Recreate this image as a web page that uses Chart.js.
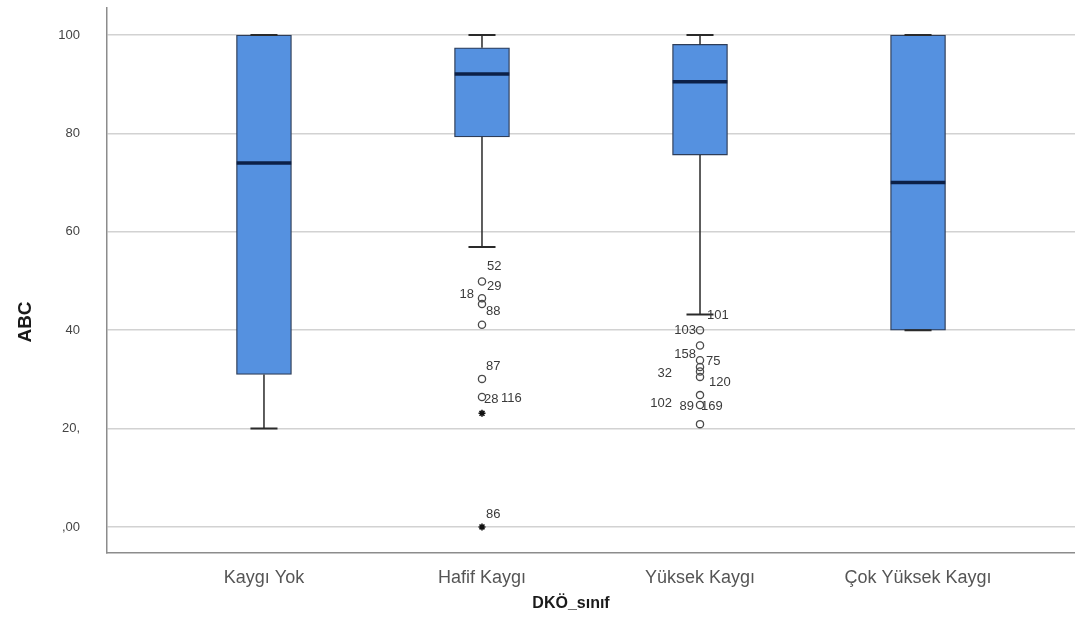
<!DOCTYPE html>
<html>
<head>
<meta charset="utf-8">
<script src="https://cdn.jsdelivr.net/npm/chart.js@4/dist/chart.umd.min.js"></script>
<style>
  html, body { margin: 0; padding: 0; background: #ffffff; }
  #wrap { width: 1075px; height: 629px; position: relative; }
</style>
</head>
<body>
<div id="wrap"><canvas id="c"></canvas></div>
<script>
// ---- data ----
const categories = ['Kaygı Yok', 'Hafif Kaygı', 'Yüksek Kaygı', 'Çok Yüksek Kaygı'];
const whiskerLow  = [20.0, 56.9, 43.2, 40.0];
const q1          = [31.0, 79.3, 75.6, 40.0];
const median      = [74.0, 92.1, 90.5, 70.0];
const q3          = [100.0, 97.4, 98.1, 100.0];
const whiskerHigh = [100.0, 100.0, 100.0, 100.0];

const outlierCat = [1, 1, 1, 1, 1, 1, 2, 2, 2, 2, 2, 2, 2, 2, 2];
const outlierVal = [49.9, 46.5, 45.3, 41.1, 30.1, 26.4, 40.0, 36.9, 33.9, 32.5, 31.6, 30.5, 26.8, 24.8, 20.9];
const extremeCat = [1, 1];
const extremeVal = [23.1, 0.0];

const labelText = ['52', '29', '18', '88', '87', '28', '116', '86', '101', '103', '158', '75', '32', '120', '102', '89', '169'];
const labelCat  = [1, 1, 1, 1, 1, 1, 1, 1, 2, 2, 2, 2, 2, 2, 2, 2, 2];
const labelVal  = [52.9, 48.8, 47.2, 43.9, 32.6, 26.0, 26.2, 2.6, 42.9, 40.0, 35.0, 33.7, 31.3, 29.3, 25.2, 24.4, 24.4];
const labelDx   = [5, 5, -8, 4, 4, 2, 19, 4, 7, -4, -4, 6, -28, 9, -28, -6, 1];

const yTickValues = [0, 20, 40, 60, 80, 100];
const yTickLabels = [',00', '20,', '40', '60', '80', '100'];

// ---- derived series ----
const boxData = categories.map((c, i) => ({ x: i, y: [q1[i], q3[i]] }));
const whiskerData = [];
const capData = [];
const medianData = [];
const CAP = 0.062, HALF = 0.125;
categories.forEach((c, i) => {
  whiskerData.push({ x: i, y: q3[i] }, { x: i, y: whiskerHigh[i] }, { x: i, y: null });
  whiskerData.push({ x: i, y: q1[i] }, { x: i, y: whiskerLow[i] }, { x: i, y: null });
  capData.push({ x: i - CAP, y: whiskerHigh[i] }, { x: i + CAP, y: whiskerHigh[i] }, { x: i, y: null });
  capData.push({ x: i - CAP, y: whiskerLow[i] }, { x: i + CAP, y: whiskerLow[i] }, { x: i, y: null });
  medianData.push({ x: i - HALF, y: median[i] }, { x: i + HALF, y: median[i] }, { x: i, y: null });
});
const outlierData = outlierVal.map((v, k) => ({ x: outlierCat[k], y: v }));
const extremeData = extremeVal.map((v, k) => ({ x: extremeCat[k], y: v }));

// ---- plugins ----
const bgPlugin = {
  id: 'bg',
  beforeDraw(chart) {
    const ctx = chart.ctx;
    ctx.save();
    ctx.fillStyle = '#ffffff';
    ctx.fillRect(0, 0, chart.width, chart.height);
    ctx.restore();
  }
};

const labelPlugin = {
  id: 'caseLabels',
  afterDatasetsDraw(chart) {
    const ctx = chart.ctx;
    const xs = chart.scales.x, ys = chart.scales.y;
    ctx.save();
    ctx.font = '13px "Liberation Sans", Arial, sans-serif';
    ctx.fillStyle = '#3a3a3a';
    ctx.textBaseline = 'middle';
    labelText.forEach((t, k) => {
      const px = xs.getPixelForValue(labelCat[k]) + labelDx[k];
      const py = ys.getPixelForValue(labelVal[k]);
      ctx.textAlign = labelDx[k] < 0 ? 'right' : 'left';
      ctx.fillText(t, px, py);
    });
    ctx.restore();
  }
};

const titlePlugin = {
  id: 'axisTitles',
  afterDraw(chart) {
    const ctx = chart.ctx;
    ctx.save();
    ctx.fillStyle = '#1a1a1a';
    ctx.textAlign = 'center';
    ctx.textBaseline = 'middle';
    ctx.font = 'bold 16px "Liberation Sans", Arial, sans-serif';
    ctx.fillText('DKÖ_sınıf', 571, 604);
    ctx.translate(26, 322);
    ctx.rotate(-Math.PI / 2);
    ctx.font = 'bold 19px "Liberation Sans", Arial, sans-serif';
    ctx.fillText('ABC', 0, 0);
    ctx.restore();
  }
};

new Chart(document.getElementById('c'), {
  type: 'bar',
  data: {
    datasets: [
      {
        type: 'line', label: 'median', data: medianData, order: 0,
        borderColor: '#0c2047', borderWidth: 3.5, pointRadius: 0, spanGaps: false, fill: false
      },
      {
        type: 'line', label: 'caps', data: capData, order: 1,
        borderColor: '#2a2a2a', borderWidth: 2, pointRadius: 0, spanGaps: false, fill: false
      },
      {
        type: 'line', label: 'whiskers', data: whiskerData, order: 2,
        borderColor: '#2a2a2a', borderWidth: 1.5, pointRadius: 0, spanGaps: false, fill: false
      },
      {
        type: 'scatter', label: 'outliers', data: outlierData, order: 0,
        pointStyle: 'circle', pointRadius: 3.6, borderWidth: 1.3,
        borderColor: '#4a4a4a', backgroundColor: 'rgba(255,255,255,0)'
      },
      {
        type: 'scatter', label: 'extremes', data: extremeData, order: 0,
        pointStyle: 'star', pointRadius: 3.5, borderWidth: 1.6,
        borderColor: '#111111', backgroundColor: '#111111'
      },
      {
        type: 'bar', label: 'box', data: boxData, order: 10,
        backgroundColor: '#5591e0', borderColor: '#2e3d58', borderWidth: 1.3,
        borderSkipped: false, barThickness: 55
      }
    ]
  },
  options: {
    responsive: true,
    maintainAspectRatio: false,
    animation: false,
    layout: { autoPadding: false, padding: { top: 8, right: 0, left: 0, bottom: 0 } },
    plugins: { legend: { display: false }, tooltip: { enabled: false } },
    scales: {
      x: {
        type: 'linear',
        offset: false,
        min: -0.72, max: 3.72,
        afterBuildTicks(scale) { scale.ticks = categories.map((c, i) => ({ value: i })); },
        afterFit(scale) { scale.height = 76; },
        grid: { display: true, drawOnChartArea: false, drawTicks: true, tickLength: 14, tickColor: 'rgba(0,0,0,0)' },
        border: { display: true, color: '#8c8c8c', width: 1.5 },
        ticks: {
          padding: 0,
          color: '#555555',
          font: { family: '"Liberation Sans", Arial, sans-serif', size: 18 },
          callback: (v) => categories[v],
          maxRotation: 0, autoSkip: false
        }
      },
      y: {
        type: 'linear',
        min: -5.3, max: 105.5,
        afterBuildTicks(scale) { scale.ticks = yTickValues.map(v => ({ value: v })); },
        afterFit(scale) { scale.width = 107; },
        grid: { color: '#d2d2d2', lineWidth: 1.5, drawTicks: true, tickLength: 27, tickColor: 'rgba(0,0,0,0)' },
        border: { display: true, color: '#8c8c8c', width: 1.5 },
        ticks: {
          padding: 0,
          color: '#444444',
          font: { family: '"Liberation Sans", Arial, sans-serif', size: 13 },
          callback: (v) => yTickLabels[yTickValues.indexOf(v)]
        }
      }
    }
  },
  plugins: [bgPlugin, labelPlugin, titlePlugin]
});
</script>
</body>
</html>
